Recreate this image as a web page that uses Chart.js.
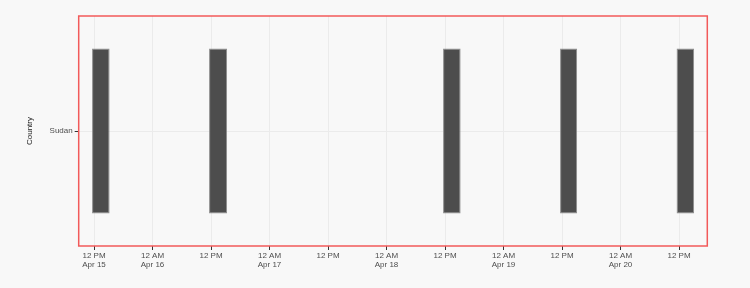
<!DOCTYPE html>
<html>
<head>
<meta charset="utf-8">
<script src="https://cdn.jsdelivr.net/npm/chart.js@4"></script>
<style>
  body { margin: 0; background: #f8f8f8; }
  #wrap { width: 750px; height: 288px; }
</style>
</head>
<body>
<div id="wrap"><canvas id="chart"></canvas></div>
<script>
// hours counted from 12 AM Apr 15
const countries = ["Sudan"];
const barStart = [11.6, 35.6, 83.6, 107.6, 131.5];
const barEnd = [15.2, 39.3, 87.2, 111.1, 135.1];
const tickHours = [12, 24, 36, 48, 60, 72, 84, 96, 108, 120, 132];
const tickLabels = [
  ["12 PM", "Apr 15"],
  ["12 AM", "Apr 16"],
  ["12 PM"],
  ["12 AM", "Apr 17"],
  ["12 PM"],
  ["12 AM", "Apr 18"],
  ["12 PM"],
  ["12 AM", "Apr 19"],
  ["12 PM"],
  ["12 AM", "Apr 20"],
  ["12 PM"],
];
const xMin = 8.86;
const xMax = 137.8;

Chart.defaults.font.family = "'Liberation Sans', Arial, sans-serif";
Chart.defaults.font.size = 8;
Chart.defaults.color = "#4d4d4d";

// red frame round the plot panel
const panelBorder = {
  id: "panelBorder",
  afterDraw(chart) {
    const { ctx, chartArea } = chart;
    ctx.save();
    ctx.strokeStyle = "#f25a5a";
    ctx.lineWidth = 1.5;
    ctx.strokeRect(chartArea.left, chartArea.top,
      chartArea.right - chartArea.left, chartArea.bottom - chartArea.top);
    ctx.restore();
  },
};

const bars = barStart.map((s, i) => ({ x: [s, barEnd[i]], y: countries[0] }));

new Chart(document.getElementById("chart"), {
  type: "bar",
  data: {
    labels: countries,
    datasets: [
      {
        data: bars,
        backgroundColor: "#4d4d4d",
        borderColor: "#8c8c8c",
        borderWidth: 1,
        borderSkipped: false,
        barPercentage: 0.717,
        categoryPercentage: 1,
      },
    ],
  },
  options: {
    indexAxis: "y",
    responsive: true,
    maintainAspectRatio: false,
    animation: false,
    layout: { padding: { top: 16, right: 42.7, left: 0, bottom: 0 } },
    plugins: {
      legend: { display: false },
      tooltip: { enabled: false },
    },
    scales: {
      x: {
        type: "linear",
        min: xMin,
        max: xMax,
        afterBuildTicks: (scale) => {
          scale.ticks = tickHours.map((v) => ({ value: v }));
        },
        afterFit: (scale) => {
          scale.height = 42;
        },
        ticks: {
          autoSkip: false,
          maxRotation: 0,
          padding: 2,
          font: { size: 8, lineHeight: 1.05 },
          callback: (value, index) => tickLabels[index],
        },
        grid: {
          color: "#ebebeb",
          tickColor: "#333333",
          tickLength: 4,
        },
        border: { display: false },
      },
      y: {
        type: "category",
        offset: true,
        afterFit: (scale) => {
          scale.width = 78.7;
        },
        ticks: { padding: 2 },
        grid: {
          offset: false,
          color: "#ebebeb",
          tickColor: "#333333",
          tickLength: 4,
        },
        border: { display: false },
        title: {
          display: true,
          text: "Country",
          color: "#222222",
          font: { size: 8 },
          padding: { top: 25, bottom: 0 },
        },
      },
    },
  },
  plugins: [panelBorder],
});
</script>
</body>
</html>
